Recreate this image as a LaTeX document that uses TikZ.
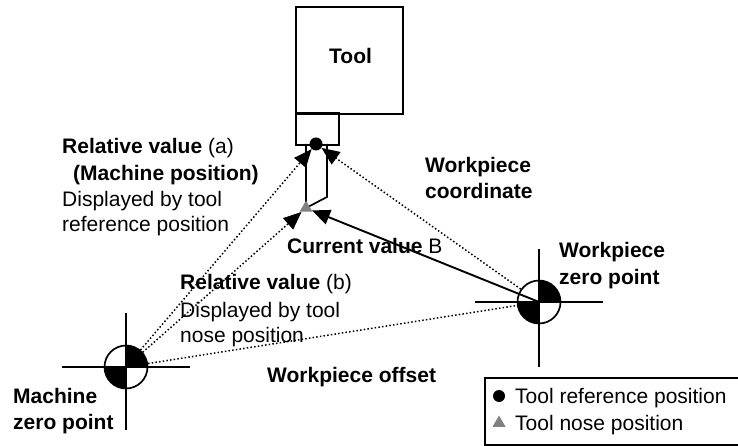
\documentclass[tikz,border=0pt]{standalone}
\usepackage{fontspec}
\setmainfont{Liberation Sans}
\usetikzlibrary{arrows.meta,shapes.geometric}
\tikzset{
  ln/.style={line width=1.7pt,black},
  dot/.style={line width=1.5pt,black,dash pattern=on 1.5pt off 2.2pt},
  tipped/.style={-{Triangle[length=18pt,width=15pt]}},
  txt/.style={font=\fontsize{21}{26}\selectfont,inner sep=0pt,anchor=base west},
  btxt/.style={txt,font=\fontsize{21}{26}\selectfont\bfseries},
  zero/.style={circle,draw,line width=1.7pt,minimum size=43pt,inner sep=0pt},
  tri/.style={regular polygon,regular polygon sides=3,fill=gray,inner sep=0pt,minimum size=15pt},
}
\newcommand{\checker}[1]{%
  \fill[black] (#1) -- ++(21.5,0) arc (0:-90:21.5) -- cycle;
  \fill[black] (#1) -- ++(-21.5,0) arc (180:90:21.5) -- cycle;
}
\begin{document}
\begin{tikzpicture}[x=1pt,y=-1pt]
\useasboundingbox (0,0) rectangle (738,446);
% tool
\node[draw,ln,minimum width=107pt,minimum height=107pt,inner sep=0pt,anchor=north west] (toolbox) at (295,6) {};
\node[btxt] (tooltxt) at (329,64) {Tool};
\node[draw,ln,minimum width=43pt,minimum height=32pt,inner sep=0pt,anchor=north west] (holder) at (295,112.5) {};
\coordinate (a1) at (306,144);
\coordinate (a2) at (327,144);
\coordinate (a3) at (327,197);
\coordinate (tip) at (306,208);
\draw[ln] (a1) -- (tip) -- (a3) -- (a2);
% zero points
\coordinate (mz) at (126,367);
\coordinate (wz) at (539,302);
\checker{mz}
\checker{wz}
\coordinate (ml) at (62,367); \coordinate (mr) at (190,367);
\coordinate (mt) at (126,313); \coordinate (mb) at (126,430);
\coordinate (wl) at (475,302); \coordinate (wr) at (603,302);
\coordinate (wt) at (539,249); \coordinate (wb) at (539,367);
\draw[ln] (ml) -- (mr) (mt) -- (mb) (wl) -- (wr) (wt) -- (wb);
\node[zero] (mc) at (mz) {};
\node[zero] (wc) at (wz) {};
% reference and nose markers
\node[circle,fill=black,minimum size=13pt,inner sep=0pt] (ref) at (316,144) {};
\node[tri] (nose) at (306,208) {};
% connectors
\draw[dot,tipped] (mc) -- (ref);
\draw[dot,tipped] (mc) -- (nose);
\draw[dot,tipped] (wc) -- (ref);
\draw[dot] (mc) -- (wc);
\draw[line width=1.9pt,tipped] (wc.center) -- (nose);
% labels
\node[txt] (l1) at (62,154) {\textbf{Relative value} (a)};
\node[btxt] (l2) at (73,181) {(Machine position)};
\node[txt] (l3) at (62,207) {Displayed by tool};
\node[txt] (l3b) at (62,232) {reference position};
\node[txt] (l4) at (287,254) {\textbf{Current value} B};
\node[txt] (l5) at (180,289) {\textbf{Relative value} (b)};
\node[txt] (l5b) at (180,317) {Displayed by tool};
\node[txt] (l5c) at (180,342) {nose position};
\node[btxt] (l6) at (425,173) {Workpiece};
\node[btxt] (l6b) at (425,199) {coordinate};
\node[btxt] (l7) at (559,258) {Workpiece};
\node[btxt] (l7b) at (559,284) {zero point};
\node[btxt] (l8) at (267,382) {Workpiece offset};
\node[btxt] (l9) at (13,403) {Machine};
\node[btxt] (l9b) at (13,429) {zero point};
% legend
\node[draw,line width=1.7pt,minimum width=256pt,minimum height=67pt,inner sep=0pt,anchor=north west] (legend) at (484,377) {};
\node[circle,fill=black,minimum size=12pt,inner sep=0pt] (lc) at (499,396) {};
\node[tri] (lt) at (499,423) {};
\node[txt] (lg1) at (515,403) {Tool reference position};
\node[txt] (lg2) at (515,430) {Tool nose position};
\end{tikzpicture}
\end{document}
